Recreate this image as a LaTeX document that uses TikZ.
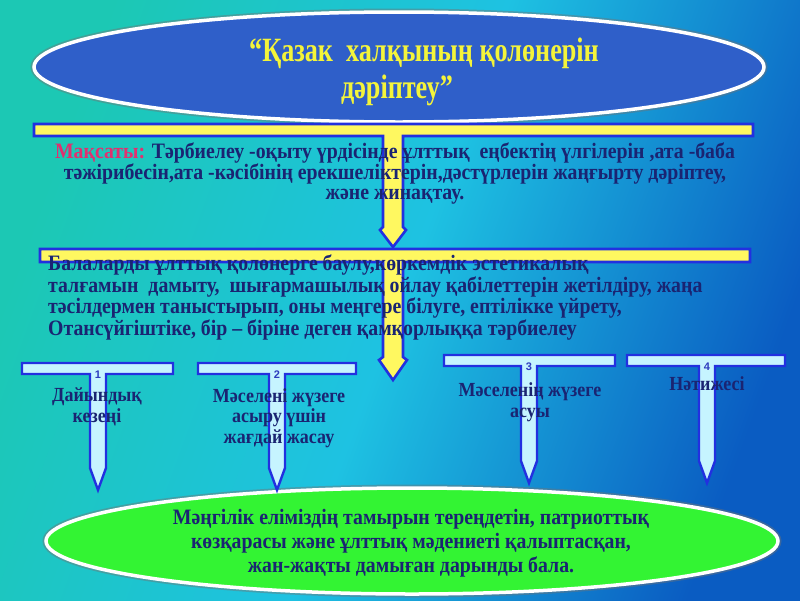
\documentclass[tikz,border=0pt]{standalone}
\usepackage{fontspec}
\setmainfont{Liberation Serif}
\newfontfamily\nar{Liberation Serif}[FakeStretch=0.9]
\newfontfamily\narT{Liberation Serif}[FakeStretch=0.77]
\newfontfamily\numf{Liberation Sans}
\definecolor{bgA}{HTML}{1CC8B4}
\definecolor{bgB}{HTML}{1EC2E2}
\definecolor{bgC}{HTML}{0A5CC2}
\definecolor{ellblue}{HTML}{2F5FC9}
\definecolor{ellgreen}{HTML}{33F433}
\definecolor{ttlyellow}{HTML}{F4F43A}
\definecolor{tyellow}{HTML}{FFF860}
\definecolor{tblue}{HTML}{2230E0}
\definecolor{tcyan}{HTML}{C6F4FF}
\definecolor{navy}{HTML}{1A2472}
\definecolor{maq}{HTML}{E03070}
\definecolor{numc}{HTML}{2E3CBE}
\newcommand\smallTee[5]{% xl, xr, ytop, cx, tipy
  \filldraw[smallT] (#1,#3) -- (#2,#3) -- (#2,{#3+11}) -- ({#4+8},{#3+11}) -- ({#4+8},{#5-22}) -- (#4,#5) -- ({#4-8},{#5-22}) -- ({#4-8},{#3+11}) -- (#1,{#3+11}) -- cycle;}
\begin{document}
\begin{tikzpicture}[x=1pt,y=-1pt,
  bigT/.style={fill=tyellow,draw=tblue,line width=2.6pt,line join=miter},
  smallT/.style={fill=tcyan,draw=tblue,line width=2.4pt,line join=miter},
  ellshadow/.style={draw=black!55,line width=7pt,opacity=0.45},
  ellrim/.style={draw=white,line width=3.5pt},
  title/.style={font=\narT\bfseries\fontsize{34}{38}\selectfont,text=ttlyellow},
  body/.style={font=\nar\bfseries\fontsize{22}{20}\selectfont,text=navy},
  lbl/.style={font=\nar\bfseries\fontsize{20}{20.5}\selectfont,text=navy,align=center},
  num/.style={font=\numf\bfseries\fontsize{11}{12}\selectfont,text=numc},
  gtext/.style={font=\nar\bfseries\fontsize{22}{24}\selectfont,text=navy,align=center}]
\useasboundingbox (0,0) rectangle (800,600);
\shade[left color=bgA,right color=bgC,middle color=bgB,shading angle=70] (0,0) rectangle (800,600);
% top ellipse
\draw[ellshadow] (399,67) ellipse [x radius=365pt, y radius=55pt];
\filldraw[fill=ellblue,ellrim] (399,67) ellipse [x radius=365pt, y radius=55pt];
\node[title] (ttl1) at (424,53) {“Қазак\ \ халқының қолөнерін};
\node[title] (ttl2) at (397,90) {дәріптеу”};
% big T shapes
\filldraw[bigT] (34,124) -- (753,124) -- (753,136) -- (403,136) -- (403,227) -- (406,230) -- (393,247) -- (380,230) -- (383,227) -- (383,136) -- (34,136) -- cycle;
\filldraw[bigT] (40,249) -- (750,249) -- (750,262) -- (403,262) -- (403,357) -- (407,360) -- (393,380) -- (379,360) -- (383,357) -- (383,262) -- (40,262) -- cycle;
% goal text
\node[body,align=center,anchor=north] (goal) at (395,139) {\textcolor{maq}{Мақсаты:} Тәрбиелеу -оқыту үрдісінде ұлттық\ \ еңбектің үлгілерін ,ата -баба\\тәжірибесін,ата -кәсібінің ерекшеліктерін,дәстүрлерін жаңғырту дәріптеу,\\және жинақтау.};
\node[body,align=left,anchor=north west,inner sep=0pt] (task) at (48,255) {Балаларды ұлттық қолөнерге баулу,көркемдік эстетикалық\\талғамын\ \ дамыту,\ \ шығармашылық ойлау қабілеттерін жетілдіру, жаңа\\тәсілдермен таныстырып, оны меңгере білуге, ептілікке үйрету,\\Отансүйгіштіке, бір – біріне деген қамқорлыққа тәрбиелеу};
% bottom ellipse
\draw[ellshadow] (412,541) ellipse [x radius=366pt, y radius=53pt];
\filldraw[fill=ellgreen,ellrim] (412,541) ellipse [x radius=366pt, y radius=53pt];
\node[gtext] (res) at (411,543) {Мәңгілік елімiздің тамырын тереңдетін, патриоттық\\көзқарасы және ұлттық мәдениеті қалыптасқан,\\жан-жақты дамыған дарынды бала.};
% small T shapes
\smallTee{22}{173}{363}{98}{490}
\smallTee{198}{356}{363}{277}{490}
\smallTee{444}{615}{355}{529}{483}
\smallTee{627}{785}{355}{707}{483}
\node[num] (n1) at (98,375) {1};
\node[num] (n2) at (277,375) {2};
\node[num] (n3) at (529,367) {3};
\node[num] (n4) at (707,367) {4};
\node[lbl] (l1) at (97,407) {Дайындық\\кезеңі};
\node[lbl] (l2) at (279,418) {Мәселені жүзеге\\асыру үшін\\жағдай жасау};
\node[lbl] (l3) at (530,402) {Мәселенің жүзеге\\асуы};
\node[lbl] (l4) at (707,384) {Нәтижесі};
\end{tikzpicture}
\end{document}
